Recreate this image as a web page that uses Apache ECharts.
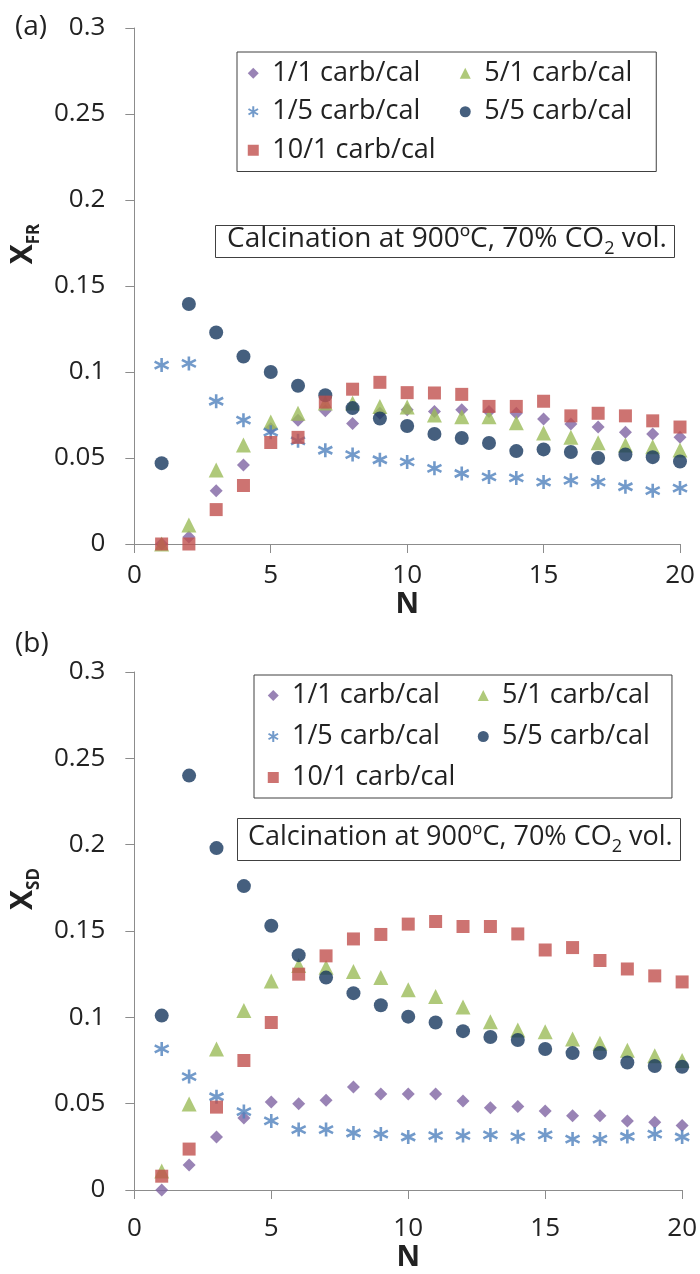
<!DOCTYPE html>
<html><head><meta charset="utf-8">
<script src="https://cdn.jsdelivr.net/npm/echarts@6/dist/echarts.min.js"></script>
<style>html,body{margin:0;padding:0;background:#fff}#c{width:700px;height:1274px}</style>
</head><body><div id="c"></div>
<script>
// ---- data ----
const cycles = [1,2,3,4,5,6,7,8,9,10,11,12,13,14,15,16,17,18,19,20];
const seriesNames = ['1/1 carb/cal','5/1 carb/cal','1/5 carb/cal','5/5 carb/cal','10/1 carb/cal'];
const xTicks = [0,5,10,15,20];
const yTicks = [0,0.05,0.1,0.15,0.2,0.25,0.3];

// panel (a): X_FR
const fr_1_1  = [0,0.004,0.031,0.046,0.067,0.072,0.0775,0.070,0.076,0.078,0.077,0.078,0.077,0.076,0.0727,0.0698,0.068,0.065,0.064,0.062];
const fr_5_1  = [0,0.011,0.043,0.0575,0.071,0.076,0.082,0.082,0.080,0.0797,0.075,0.074,0.074,0.0705,0.0645,0.062,0.0588,0.0575,0.0565,0.0547];
const fr_1_5  = [0.104,0.105,0.083,0.072,0.065,0.060,0.0545,0.052,0.049,0.0477,0.044,0.041,0.039,0.0384,0.036,0.037,0.036,0.0333,0.031,0.0325];
const fr_5_5  = [0.047,0.1395,0.123,0.109,0.100,0.092,0.0865,0.079,0.073,0.0686,0.064,0.0616,0.0587,0.054,0.055,0.0535,0.050,0.052,0.0505,0.048];
const fr_10_1 = [0,0,0.020,0.034,0.059,0.062,0.0825,0.090,0.094,0.088,0.0878,0.087,0.080,0.080,0.083,0.0745,0.076,0.0745,0.0716,0.068];

// panel (b): X_SD
const sd_1_1  = [0,0.0145,0.0307,0.0417,0.051,0.050,0.052,0.0597,0.0556,0.0556,0.0556,0.0516,0.0477,0.0483,0.0458,0.043,0.043,0.040,0.0393,0.0373];
const sd_5_1  = [0.011,0.0498,0.0817,0.104,0.121,0.130,0.129,0.1265,0.123,0.116,0.112,0.106,0.0975,0.0927,0.0917,0.0875,0.085,0.081,0.0778,0.075];
const sd_1_5  = [0.0817,0.0657,0.054,0.0454,0.040,0.035,0.035,0.033,0.0324,0.0307,0.0315,0.0315,0.0319,0.0309,0.0319,0.0295,0.0295,0.031,0.0324,0.0307];
const sd_5_5  = [0.101,0.240,0.198,0.176,0.153,0.136,0.123,0.114,0.107,0.1004,0.097,0.092,0.0886,0.0869,0.0817,0.0793,0.0793,0.0738,0.0718,0.0714];
const sd_10_1 = [0.008,0.0237,0.048,0.075,0.097,0.125,0.1356,0.1454,0.148,0.154,0.1555,0.1526,0.1526,0.1483,0.139,0.1404,0.1329,0.128,0.124,0.1205];

const panelA = [fr_1_1, fr_5_1, fr_1_5, fr_5_5, fr_10_1];
const panelB = [sd_1_1, sd_5_1, sd_1_5, sd_5_5, sd_10_1];

// ---- styles ----
const FONT = 'Open Sans';
const TXT = '#222';
const AXC = '#8c8c8c';
const STAR = 'path://M5,0L5,10M0.67,2.5L9.33,7.5M0.67,7.5L9.33,2.5';
const markers = [
  {symbol:'diamond', size:13, style:{color:'#8064a2'}},
  {symbol:'triangle', size:15, style:{color:'#9bbb59'}},
  {symbol:STAR, size:14, style:{color:'#4f81bd', borderColor:'#4f81bd', borderWidth:2.6}},
  {symbol:'circle', size:14, style:{color:'#17375e'}},
  {symbol:'rect', size:13, style:{color:'#c0504d'}}
];

function makeSeries(panel, idx){
  return panel.map((vals, k) => ({
    type:'scatter', name: seriesNames[k], xAxisIndex: idx, yAxisIndex: idx,
    symbol: markers[k].symbol, symbolSize: markers[k].size,
    itemStyle: markers[k].style,
    data: cycles.map((n,i) => [n, vals[i]]),
    emphasis:{disabled:true}, animation:false
  }));
}

function xAxis(idx, margin, gap){
  return {
    type:'value', gridIndex: idx, min: xTicks[0], max: xTicks[xTicks.length-1], interval: xTicks[1]-xTicks[0],
    axisLine:{show:true, lineStyle:{color:AXC, width:1}},
    axisTick:{show:true, inside:false, length:9, lineStyle:{color:AXC}},
    splitLine:{show:false},
    axisLabel:{fontFamily:FONT, fontSize:26, color:TXT, margin: margin},
    name:'N', nameLocation:'middle', nameGap: gap,
    nameTextStyle:{fontFamily:FONT, fontSize:29, fontWeight:'bold', color:TXT}
  };
}
function yAxis(idx, sub, gap){
  return {
    type:'value', gridIndex: idx, min: yTicks[0], max: yTicks[yTicks.length-1], interval: yTicks[1]-yTicks[0],
    axisLine:{show:true, lineStyle:{color:AXC, width:1}},
    axisTick:{show:true, inside:false, length:9, lineStyle:{color:AXC}},
    splitLine:{show:false},
    axisLabel:{fontFamily:FONT, fontSize:26, color:TXT, margin:29,
      formatter: v => String(parseFloat(v.toFixed(2)))},
    name:'{x|X}{s|' + sub + '}', nameLocation:'middle', nameRotate:90, nameGap: gap,
    nameTextStyle:{padding:[0,0,0,84], rich:{
      x:{fontFamily:FONT, fontSize:30, fontWeight:'bold', color:TXT, lineHeight:40},
      s:{fontFamily:FONT, fontSize:17, fontWeight:'bold', color:TXT, lineHeight:17, verticalAlign:'bottom'}
    }}
  };
}
function legend(left, top, pad, lh, padL, w1, w2){
  return {
    left:left, top:top, orient:'horizontal', width: 430,
    itemWidth:11, itemHeight:11, itemGap:0,
    borderColor:'#404040', borderWidth:1, padding: pad,
    selectedMode:false,
    textStyle:{fontFamily:FONT, fontSize:27, color:TXT, lineHeight:lh, padding:[0,0,0,padL], width:w1},
    data: seriesNames.map((n,k) => (k===1||k===3) ? {name:n, textStyle:{width:w2}} : {name:n})
  };
}
function note(left, top, pad, fs){
  return {
    text:'{n|Calcination at 900ºC, 70% CO}{s|2}{n| vol.}',
    left:left, top:top, borderColor:'#404040', borderWidth:1, padding: pad,
    textStyle:{fontWeight:'normal', rich:{
      n:{fontFamily:FONT, fontSize:fs, fontWeight:'normal', color:TXT, lineHeight:38},
      s:{fontFamily:FONT, fontSize:18, fontWeight:'normal', color:TXT, lineHeight:18, verticalAlign:'bottom'}
    }}
  };
}

const chart = echarts.init(document.getElementById('c'), null, {renderer:'canvas'});
chart.setOption({
  backgroundColor:'#fff',
  animation:false,
  grid:[
    {left:134, top:28, width:546, height:516},
    {left:127, top:672, width:556, height:518}
  ],
  xAxis:[xAxis(0, 19, 36), xAxis(1, 26, 52)],
  yAxis:[yAxis(0, 'FR', 74), yAxis(1, 'SD', 67)],
  legend:[
    legend(237, 52, [2,12,2,10.5], 38.5, 8.5, 187.5, 160),
    legend(254, 675, [0,10,0,13.5], 41, 8.2, 185.8, 160)
  ],
  title:[
    note(215, 220, [0,8,0,12], 28),
    note(237, 813, [5,8,5,11], 27)
  ],
  graphic:[
    {type:'text', left:15, top:13, style:{text:'(a)', font:'28px "Open Sans"', fill:TXT}},
    {type:'text', left:15, top:630, style:{text:'(b)', font:'28px "Open Sans"', fill:TXT}}
  ],
  series: makeSeries(panelA, 0).concat(makeSeries(panelB, 1))
});
</script></body></html>
